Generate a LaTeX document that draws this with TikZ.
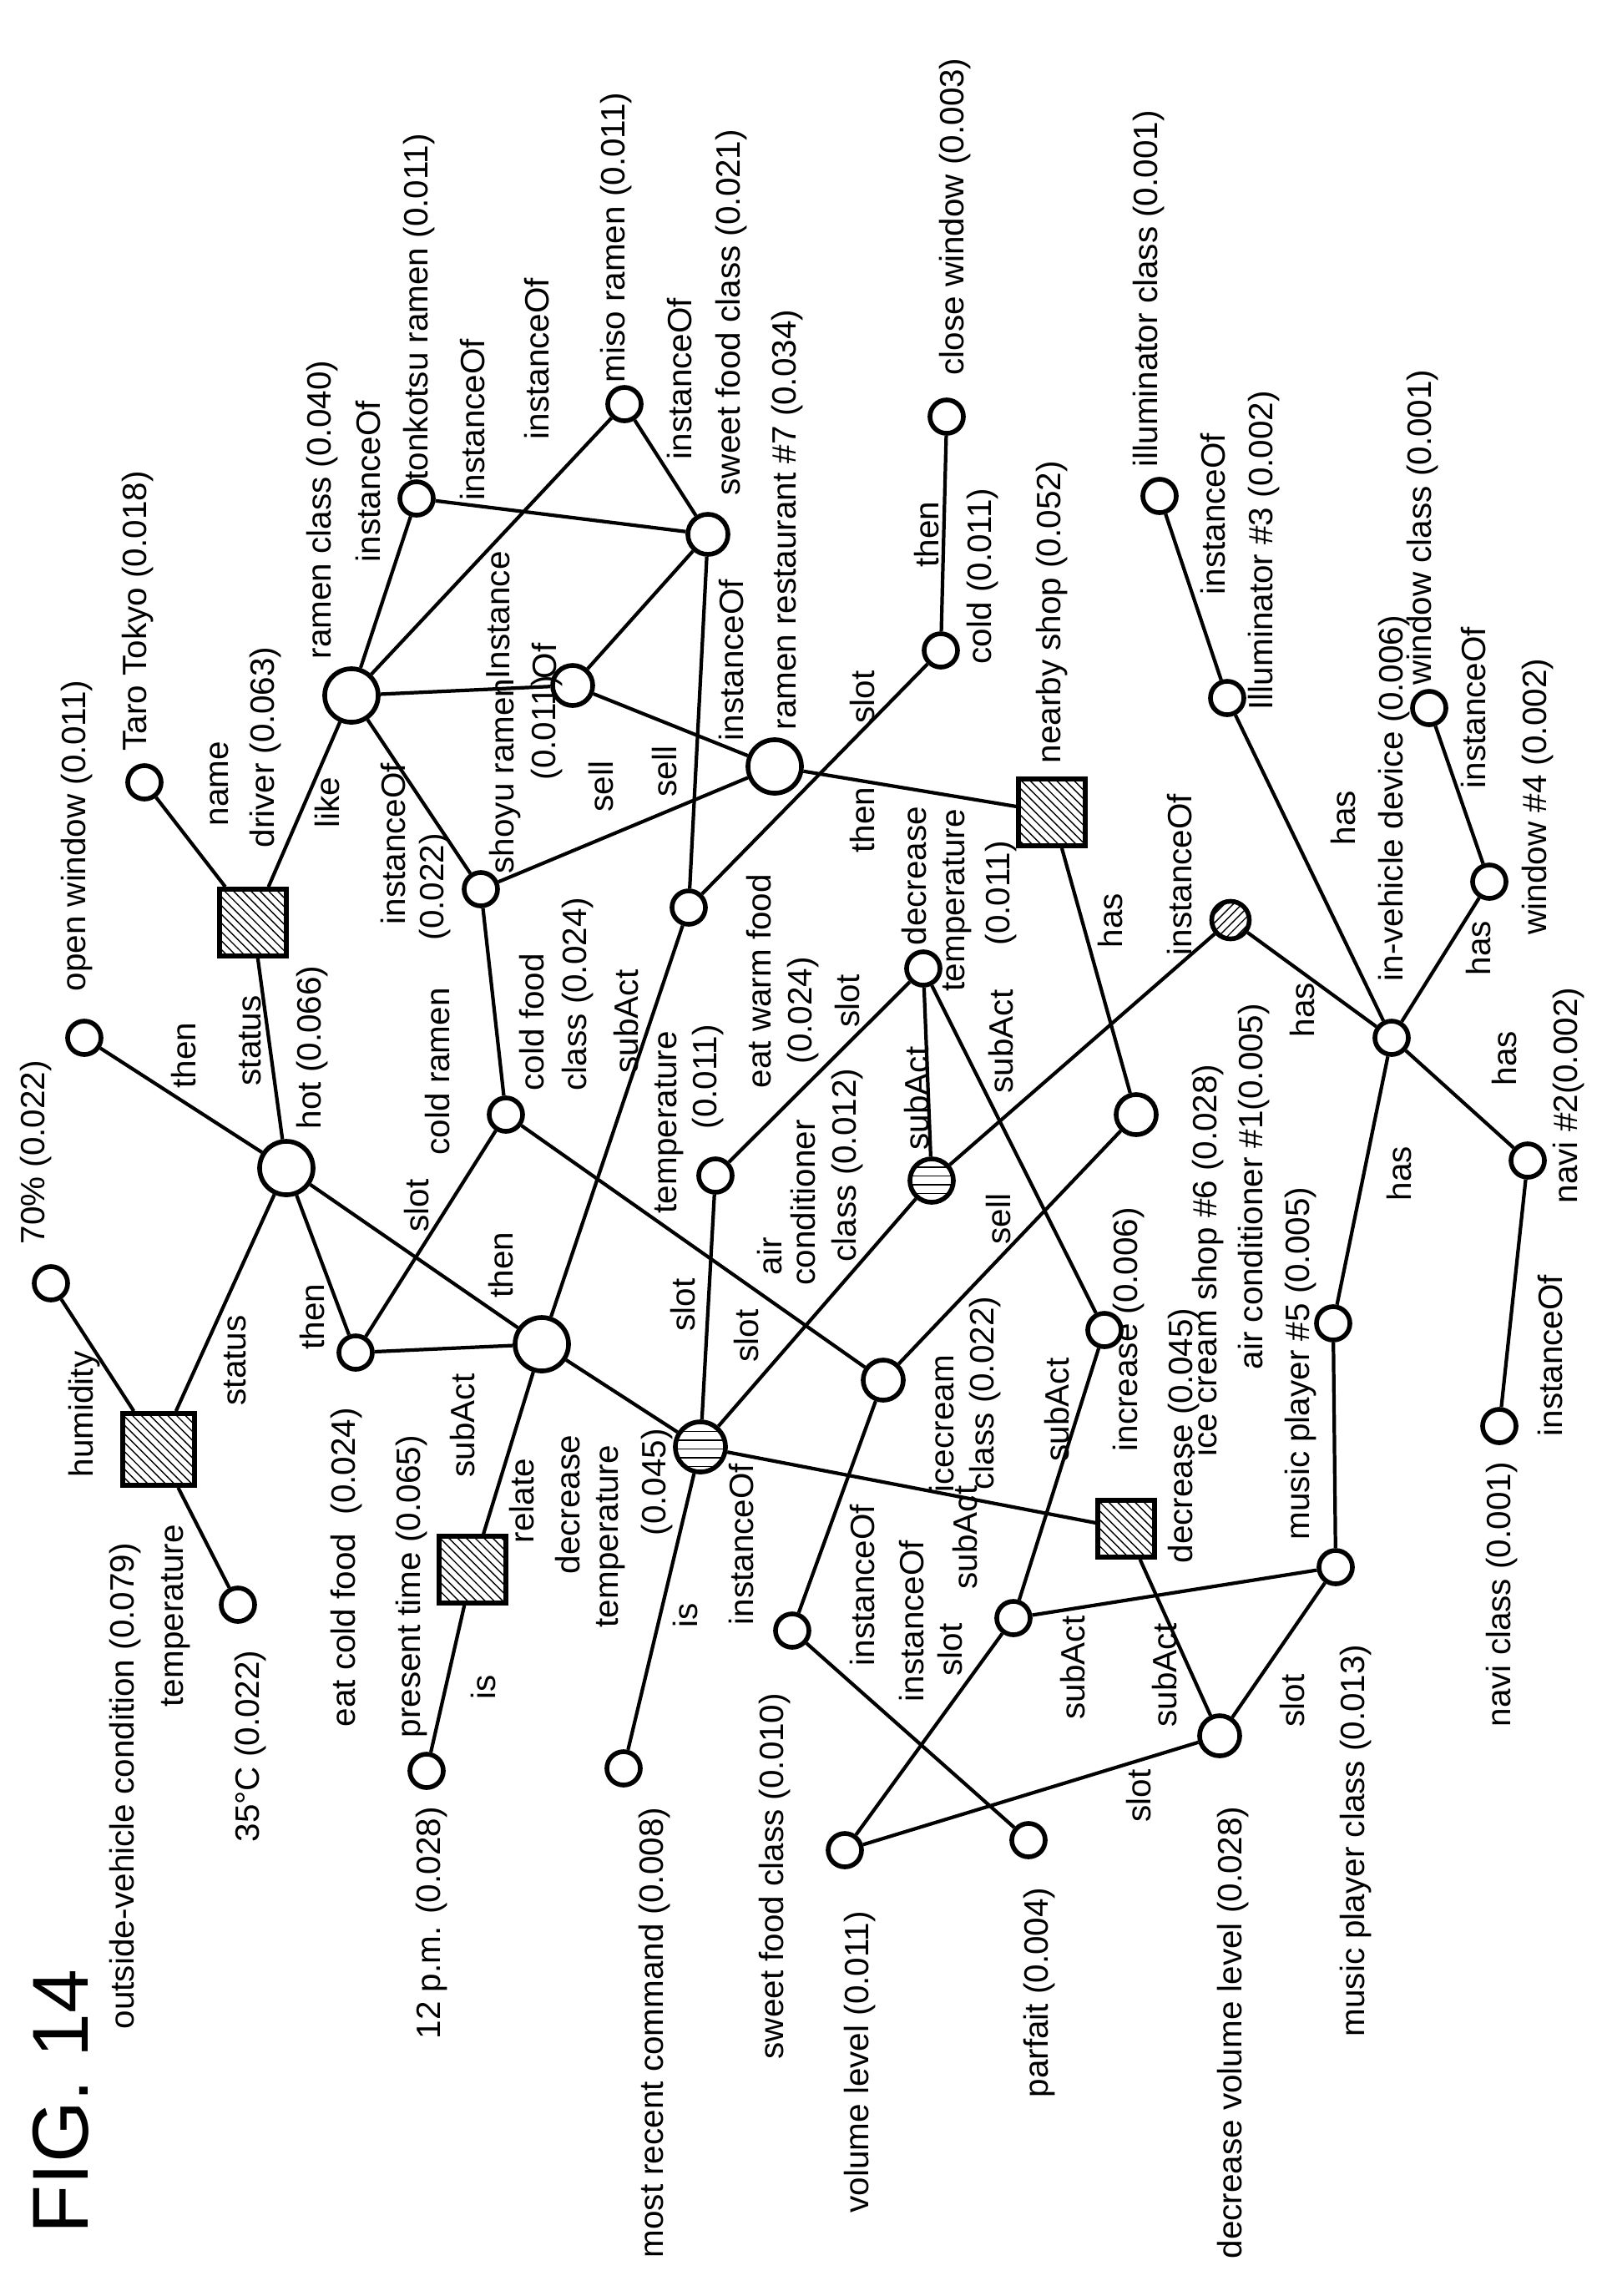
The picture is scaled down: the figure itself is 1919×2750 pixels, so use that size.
\documentclass[tikz,border=0pt]{standalone}
\usepackage{fontspec}
\setmainfont{Liberation Sans}
\usetikzlibrary{patterns}

\tikzset{
  concept/.style={circle, draw, line width=1.6pt, minimum size=0.4cm, inner sep=0pt},
  midc/.style={concept, minimum size=0.48cm},
  bigc/.style={concept, minimum size=0.64cm},
  hatchc/.style={concept, minimum size=0.52cm, pattern=horizontal lines},
  statebox/.style={rectangle, draw, line width=1.6pt, minimum size=0.8cm, inner sep=0pt, pattern=north west lines},
  lbl/.style={rotate=90, anchor=west, inner sep=0pt, font=\fontsize{11.5}{13}\selectfont},
  link/.style={line width=1.2pt}
}

\begin{document}
\begin{tikzpicture}[x=0.01cm, y=-0.01cm]
    \useasboundingbox (0,0) rectangle (1919,2750);

    % concept nodes
    \node[concept] (taro) at (173,937) {};
    \node[concept] (openwin) at (101,1243) {};
    \node[bigc] (rclass) at (421,833) {};
    \node[concept] (tonk) at (499,597) {};
    \node[concept] (miso) at (748,484) {};
    \node[midc] (sf21) at (848,640) {};
    \node[midc] (n011) at (686,821) {};
    \node[bigc] (rrest) at (928,918) {};
    \node[concept] (closew) at (1134,499) {};
    \node[concept] (cold) at (1127,779) {};
    \node[statebox] (nshop) at (1260,973) {};
    \node[concept] (illumc) at (1389,594) {};
    \node[concept] (illum3) at (1470,836) {};
    \node[concept] (winc) at (1712,848) {};
    \node[concept] (win4) at (1784,1056) {};
    \node[concept] (invd) at (1667,1243) {};
    \node[concept, minimum size=0.45cm, pattern=north east lines] (ac1) at (1474,1102) {};
    \node[concept] (navi2) at (1830,1390) {};
    \node[concept] (navic) at (1796,1708) {};
    \node[concept] (mp5) at (1597,1585) {};
    \node[concept] (mpc) at (1600,1877) {};
    \node[midc] (decv) at (1461,2079) {};
    \node[statebox, minimum size=0.68cm] (decsq) at (1349,1831) {};
    \node[midc] (icshop) at (1361,1335) {};
    \node[midc] (icclass) at (1058,1653) {};
    \node[concept] (incr) at (1323,1593) {};
    \node[concept] (decr) at (1106,1160) {};
    \node[hatchc] (acc) at (1116,1414) {};
    \node[concept] (temp) at (857,1408) {};
    \node[concept] (warm) at (825,1087) {};
    \node[concept] (shoyu) at (576,1065) {};
    \node[concept] (cfood) at (606,1335) {};
    \node[bigc] (hot) at (343,1399) {};
    \node[statebox] (driver) at (303,1105) {};
    \node[statebox, minimum size=0.86cm] (outside) at (190,1736) {};
    \node[concept] (c70) at (61,1537) {};
    \node[concept] (c35) at (285,1922) {};
    \node[concept] (eatcold) at (426,1620) {};
    \node[bigc] (tact) at (649,1610) {};
    \node[statebox] (ptime) at (566,1880) {};
    \node[concept] (pm12) at (511,2121) {};
    \node[hatchc, minimum size=0.6cm] (dt) at (839,1733) {};
    \node[concept] (recent) at (747,2118) {};
    \node[concept] (sf10) at (949,1953) {};
    \node[concept] (sa) at (1214,1938) {};
    \node[concept] (vol) at (1012,2216) {};
    \node[concept] (parfait) at (1232,2204) {};

    % relations
    \foreach \a/\b in {taro/driver, driver/rclass, driver/hot, rclass/tonk, rclass/miso,
        rclass/n011, rclass/shoyu, tonk/sf21, miso/sf21, sf21/n011, sf21/warm, n011/rrest,
        rrest/shoyu, rrest/nshop, closew/cold, cold/warm, illumc/illum3, illum3/invd,
        winc/win4, win4/invd, invd/ac1, invd/navi2, invd/mp5, navi2/navic, mp5/mpc,
        mpc/decv, mpc/sa, nshop/icshop, icshop/icclass, decr/acc, decr/temp, decr/incr,
        acc/ac1, acc/dt, icclass/cfood, icclass/sf10, incr/sa, sa/vol, vol/decv,
        decv/decsq, decsq/dt, sf10/parfait, dt/temp, dt/tact, dt/recent, warm/tact,
        cfood/shoyu, cfood/eatcold, eatcold/hot, eatcold/tact, hot/tact, hot/openwin,
        hot/outside, outside/c70, outside/c35, tact/ptime, ptime/pm12}
        \draw[link] (\a) -- (\b);

    % labels
    \node[lbl] at (165,900) {Taro Tokyo (0.018)};
    \node[lbl] at (92,1188) {open window (0.011)};
    \node[lbl] at (263,990) {name};
    \node[lbl] at (318,1016) {driver (0.063)};
    \node[lbl] at (392,992) {like};
    \node[lbl] at (386,790) {ramen class (0.040)};
    \node[lbl] at (441,674) {instanceOf};
    \node[lbl] at (502,576) {tonkotsu ramen (0.011)};
    \node[lbl] at (566,600) {instanceOf};
    \node[lbl] at (643,527) {instanceOf};
    \node[lbl] at (738,459) {miso ramen (0.011)};
    \node[lbl] at (814,551) {instanceOf};
    \node[lbl] at (876,594) {sweet food class (0.021)};
    \node[lbl] at (876,888) {instanceOf};
    \node[lbl] at (943,875) {ramen restaurant \#7 (0.034)};
    \node[lbl] at (597,814) {Instance};
    \node[lbl] at (652,814) {Of};
    \node[lbl] at (605,1047) {shoyu ramen};
    \node[lbl] at (655,935) {(0.011)};
    \node[lbl] at (720,973) {sell};
    \node[lbl] at (796,955) {sell};
    \node[lbl] at (1144,450) {close window (0.003)};
    \node[lbl] at (1110,680) {then};
    \node[lbl] at (1177,796) {cold (0.011)};
    \node[lbl] at (1033,867) {slot};
    \node[lbl] at (1260,915) {nearby shop (0.052)};
    \node[lbl] at (1376,560) {illuminator class (0.001)};
    \node[lbl] at (1453,713) {instanceOf};
    \node[lbl] at (1514,851) {Illuminator \#3 (0.002)};
    \node[lbl] at (1670,1176) {in-vehicle device (0.006)};
    \node[lbl] at (1704,821) {window class (0.001)};
    \node[lbl] at (1765,945) {instanceOf};
    \node[lbl] at (1842,1120) {window \#4 (0.002)};
    \node[lbl] at (1033,1022) {then};
    \node[lbl] at (1095,1133) {decrease};
    \node[lbl] at (1147,1188) {temperature};
    \node[lbl] at (1199,1133) {(0.011)};
    \node[lbl] at (1199,1310) {subAct};
    \node[lbl] at (1015,1231) {slot};
    \node[lbl] at (1098,1378) {subAct};
    \node[lbl] at (1352,1739) {increase (0.006)};
    \node[lbl] at (1128,1788) {icecream};
    \node[lbl] at (1180,1785) {class (0.022)};
    \node[lbl] at (1196,1491) {sell};
    \node[lbl] at (1330,1136) {has};
    \node[lbl] at (1413,1145) {instanceOf};
    \node[lbl] at (1447,1745) {ice cream shop \#6 (0.028)};
    \node[lbl] at (1418,1873) {decrease (0.045)};
    \node[lbl] at (1502,1641) {air conditioner \#1(0.005)};
    \node[lbl] at (1560,1243) {has};
    \node[lbl] at (1771,1169) {has};
    \node[lbl] at (1609,1013) {has};
    \node[lbl] at (1802,1301) {has};
    \node[lbl] at (1879,1442) {navi \#2(0.002)};
    \node[lbl] at (1857,1721) {instanceOf};
    \node[lbl] at (1799,2069) {navi class (0.001)};
    \node[lbl] at (1676,1439) {has};
    \node[lbl] at (1558,1845) {music player \#5 (0.005)};
    \node[lbl] at (1266,1751) {subAct};
    \node[lbl] at (101,1770) {humidity};
    \node[lbl] at (43,1491) {70\% (0.022)};
    \node[lbl] at (220,1304) {then};
    \node[lbl] at (300,1301) {status};
    \node[lbl] at (374,1353) {hot (0.066)};
    \node[lbl] at (282,1684) {status};
    \node[lbl] at (374,1617) {then};
    \node[lbl] at (600,1555) {then};
    \node[lbl] at (415,2069) {eat cold food~~(0.024)};
    \node[lbl] at (499,1476) {slot};
    \node[lbl] at (524,1384) {cold ramen};
    \node[lbl] at (521,1127) {(0.022)};
    \node[lbl] at (471,1108) {instanceOf};
    \node[lbl] at (637,1307) {cold food};
    \node[lbl] at (692,1307) {class (0.024)};
    \node[lbl] at (750,1286) {subAct};
    \node[lbl] at (909,1304) {eat warm food};
    \node[lbl] at (962,1275) {(0.024)};
    \node[lbl] at (802,1454) {temperature};
    \node[lbl] at (848,1353) {(0.011)};
    \node[lbl] at (818,1595) {slot};
    \node[lbl] at (894,1632) {slot};
    \node[lbl] at (922,1528) {air};
    \node[lbl] at (962,1540) {conditioner};
    \node[lbl] at (1015,1512) {class (0.012)};
    \node[lbl] at (493,2082) {present time (0.065)};
    \node[lbl] at (554,1770) {subAct};
    \node[lbl] at (625,1849) {relate};
    \node[lbl] at (680,1886) {decrease};
    \node[lbl] at (732,1950) {temperature};
    \node[lbl] at (787,1840) {(0.045)};
    \node[lbl] at (888,1947) {instanceOf};
    \node[lbl] at (821,1950) {is};
    \node[lbl, font=\fontsize{27}{30}\selectfont] at (73,2676) {FIG. 14};
    \node[lbl] at (150,2431) {outside-vehicle condition (0.079)};
    \node[lbl] at (211,2045) {temperature};
    \node[lbl] at (300,2207) {35°C (0.022)};
    \node[lbl] at (579,2036) {is};
    \node[lbl] at (517,2443) {12 p.m. (0.028)};
    \node[lbl] at (784,2705) {most recent command (0.008)};
    \node[lbl] at (928,2467) {sweet food class (0.010)};
    \node[lbl] at (1033,1996) {instanceOf};
    \node[lbl] at (1092,2039) {instanceOf};
    \node[lbl] at (1138,2008) {slot};
    \node[lbl] at (1156,1904) {subAct};
    \node[lbl] at (1285,2060) {subAct};
    \node[lbl] at (1395,2069) {subAct};
    \node[lbl] at (1364,2183) {slot};
    \node[lbl] at (1030,2651) {volume level (0.011)};
    \node[lbl] at (1245,2513) {parfait (0.004)};
    \node[lbl] at (1548,2069) {slot};
    \node[lbl] at (1477,2706) {decrease volume level (0.028)};
    \node[lbl] at (1624,2440) {music player class (0.013)};
\end{tikzpicture}
\end{document}
